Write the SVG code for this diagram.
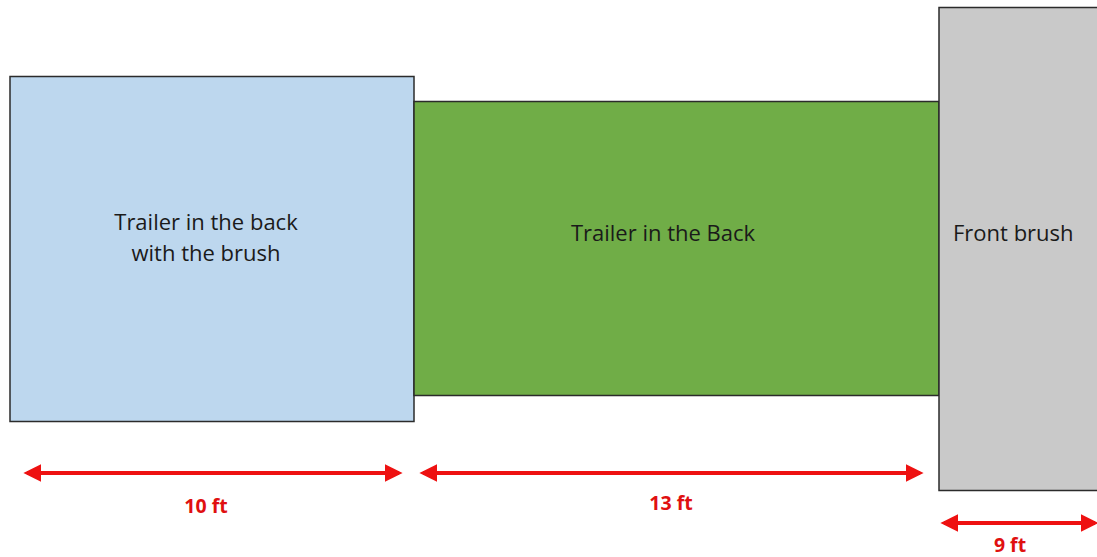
<svg xmlns="http://www.w3.org/2000/svg" width="1097" height="557" viewBox="0 0 1097 557">
<style>
.box{stroke:#2b2b2b;stroke-width:1.5}
.lbl{font-family:"Open Sans","Liberation Sans",sans-serif;font-size:22px;fill:#1a1a1a}
.dim{font-family:"Open Sans","Liberation Sans",sans-serif;font-size:19.500px;font-weight:bold;fill:#e01010}
.arr{stroke:#ee1111;stroke-width:4;fill:none}
</style>
<defs>
<marker id="ah" viewBox="0 0 10 10" refX="8" refY="5" markerWidth="4.5" markerHeight="4.5" orient="auto-start-reverse" markerUnits="strokeWidth">
<path d="M0,0 L10,5 L0,10 Z" fill="#ee1111"/>
</marker>
</defs>
<rect width="1097" height="557" fill="#ffffff"/>
<g id="node-blue">
<rect class="box" x="10" y="76.500" width="404" height="345" fill="#bdd7ee"/>
<text class="lbl" x="206" y="230" text-anchor="middle">Trailer in the back</text>
<text class="lbl" x="206" y="261" text-anchor="middle">with the brush</text>
</g>
<g id="node-green">
<rect class="box" x="414" y="101.500" width="525" height="294" fill="#70ad47"/>
<text class="lbl" x="663" y="241" text-anchor="middle">Trailer in the Back</text>
</g>
<g id="node-gray">
<rect class="box" x="939" y="7.500" width="170" height="483" fill="#c9c9c9"/>
<text class="lbl" x="953" y="241">Front brush</text>
</g>
<g id="connectors">
<line class="arr" x1="27" y1="473" x2="399" y2="473" marker-start="url(#ah)" marker-end="url(#ah)"/>
<line class="arr" x1="423" y1="473" x2="920" y2="473" marker-start="url(#ah)" marker-end="url(#ah)"/>
<line class="arr" x1="944" y1="523" x2="1095" y2="523" marker-start="url(#ah)" marker-end="url(#ah)"/>
</g>
<g id="labels">
<text class="dim" x="206" y="513" text-anchor="middle">10 ft</text>
<text class="dim" x="671" y="510" text-anchor="middle">13 ft</text>
<text class="dim" x="1010" y="552" text-anchor="middle">9 ft</text>
</g>
</svg>
